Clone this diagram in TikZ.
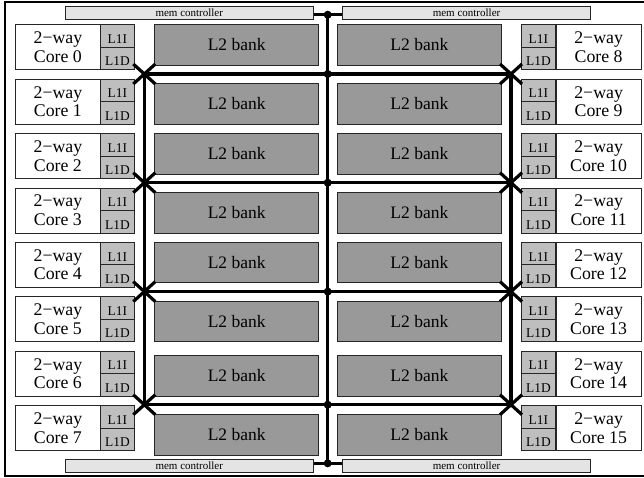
\documentclass[tikz,border=0pt]{standalone}
\usepackage{fontspec}
\setmainfont{Liberation Serif}
\usepackage{tikz}
\usepackage{xcolor}
\definecolor{ColBank}{RGB}{153,153,153}
\definecolor{ColCache}{RGB}{190,190,190}
\definecolor{ColMem}{RGB}{228,228,228}
\tikzstyle{CoreBox}=[draw=black!85,fill=white,line width=.8pt,inner sep=0pt,minimum width=85pt,
minimum height=45pt,anchor=north west,align=center,font=\fontsize{17.8}{18.5}\selectfont]
\tikzstyle{CacheBox}=[draw=black!85,fill=ColCache,line width=.8pt,inner sep=0pt,minimum width=34pt,
minimum height=22.5pt,anchor=north west,text height=15pt,text depth=0pt,font=\fontsize{13.4}{14}\selectfont]
\tikzstyle{BankBox}=[draw=black!85,fill=ColBank,line width=.8pt,inner sep=0pt,minimum width=164pt,
minimum height=40.5pt,anchor=north west,font=\fontsize{17.5}{18}\selectfont]
\tikzstyle{MemBox}=[draw=black!85,fill=ColMem,line width=.8pt,inner sep=0pt,minimum width=247.7pt,
minimum height=13pt,anchor=north west,font=\fontsize{11}{12}\selectfont]
\tikzstyle{BusLine}=[black,line width=3.2pt]
\tikzstyle{BusDot}=[circle,fill=black,inner sep=0pt,minimum size=8pt]

\begin{document}
\begin{tikzpicture}[x=1pt,y=-1pt]
        \useasboundingbox(0,0)rectangle(644,477);
        \draw[line width=1.2pt](5,2)rectangle(652,476);
        % memory controllers
        \node[MemBox](mt0)at(65,6.3){mem controller};
        \node[MemBox](mt1)at(342.3,6.3){mem controller};
        \node[MemBox](mb0)at(65,459){mem controller};
        \node[MemBox](mb1)at(342.3,459){mem controller};
        % cores
        \foreach \i/\y in {0/24.3,1/78.7,2/133.1,3/187.5,4/241.9,5/296.3,6/350.7,7/405.1}{
            \node[CoreBox](c\i)at(15,\y){2−way\\Core \i};
            \node[CacheBox](ci\i)at(100,\y){L1I};
            \node[CacheBox](cd\i)at(100,\y+22.5){L1D};
        }
        \foreach \i/\y in {8/24.3,9/78.7,10/133.1,11/187.5,12/241.9,13/296.3,14/350.7,15/405.1}{
            \node[CacheBox](ci\i)at(521,\y){L1I};
            \node[CacheBox](cd\i)at(521,\y+22.5){L1D};
            \node[CoreBox](c\i)at(555.7,\y){2−way\\Core \i};
        }
        % L2 banks
        \foreach \i/\y in {0/24.3,1/83.3,2/133.3,3/192.3,4/241.7,5/300.7,6/355,7/414}{
            \node[BankBox](bl\i)at(154.3,\y){L2 bank};
            \node[BankBox](br\i)at(337,\y){L2 bank};
        }
        % buses
        \coordinate(jt)at(327.7,14.7);
        \coordinate(jb)at(327.7,463.3);
        \foreach \k/\y in {1/74,2/182.7,3/291.6,4/404.7}{
            \coordinate(jl\k)at(144.3,\y);
            \coordinate(jc\k)at(327.7,\y);
            \coordinate(jr\k)at(511,\y);
        }
        \draw[BusLine](mt0.east|-jt)--(mt1.west|-jt);
        \draw[BusLine](mb0.east|-jb)--(mb1.west|-jb);
        \draw[BusLine](jt)--(jb);
        \draw[BusLine](jl1)--(jl4);
        \draw[BusLine](jr1)--(jr4);
        \foreach \k in {1,...,4}{
            \draw[BusLine](jl\k)--(jr\k);
            \draw[BusLine]([shift={(-11,-10)}]jl\k)--([shift={(11,10)}]jl\k);
            \draw[BusLine]([shift={(-11,10)}]jl\k)--([shift={(11,-10)}]jl\k);
            \draw[BusLine]([shift={(-11,-10)}]jr\k)--([shift={(11,10)}]jr\k);
            \draw[BusLine]([shift={(-11,10)}]jr\k)--([shift={(11,-10)}]jr\k);
            \node[BusDot](dc\k)at(jc\k){};
        }
        \node[BusDot](dt)at(jt){};
        \node[BusDot](db)at(jb){};
    \end{tikzpicture}
\end{document}
